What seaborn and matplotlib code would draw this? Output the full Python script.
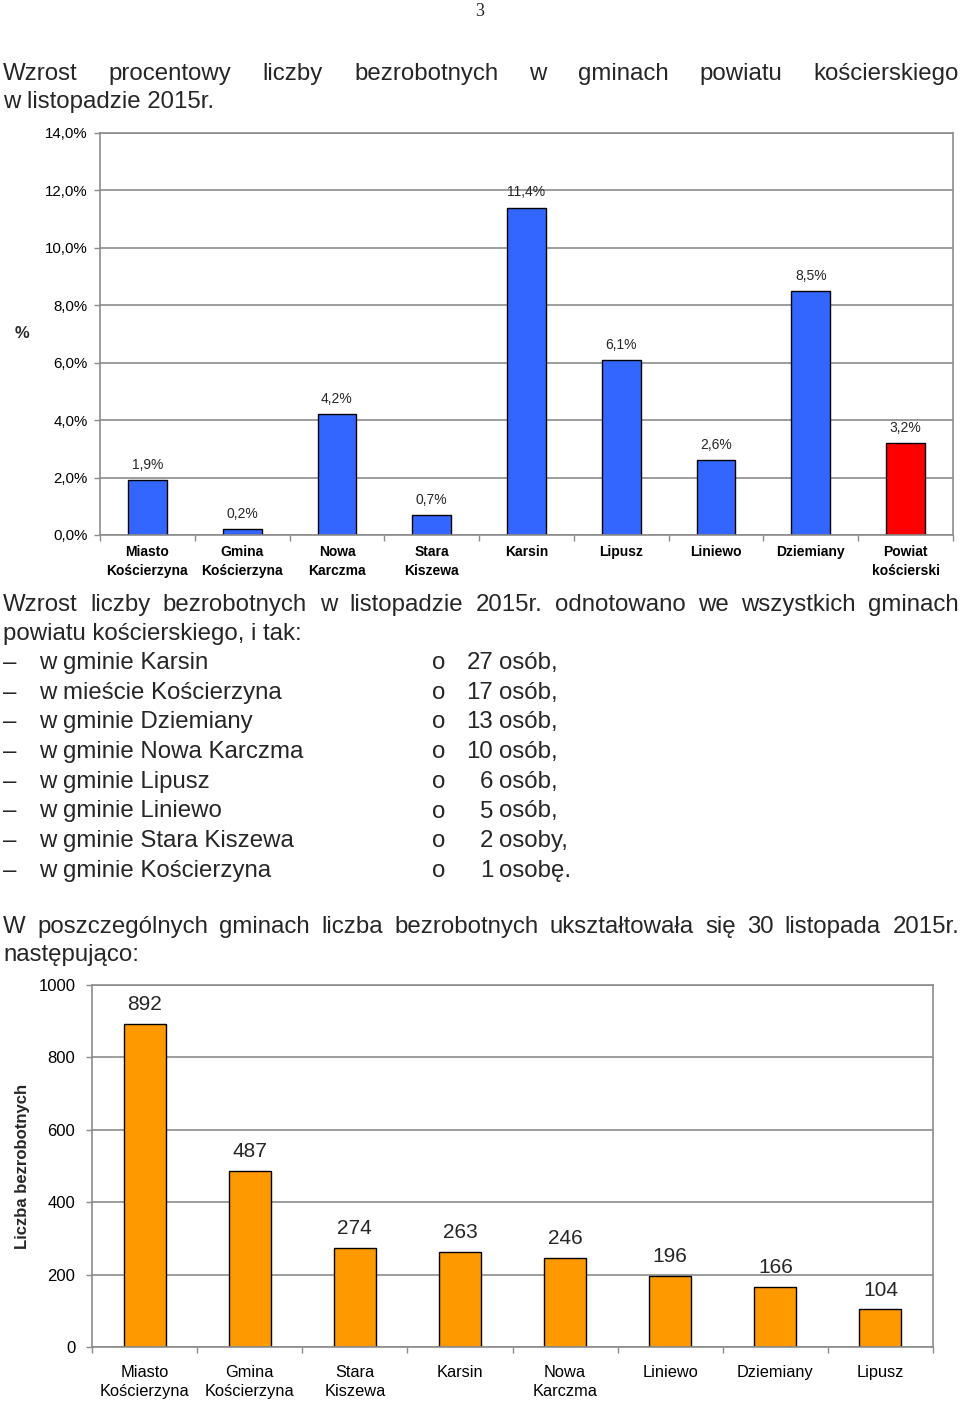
import numpy as np
import pandas as pd
import matplotlib
matplotlib.use("Agg")
import matplotlib.pyplot as plt
from matplotlib.ticker import FuncFormatter, FixedLocator
import seaborn as sns

# --- data ---
gminy_pct = ["Miasto\nKościerzyna", "Gmina\nKościerzyna", "Nowa\nKarczma", "Stara\nKiszewa",
             "Karsin", "Lipusz", "Liniewo", "Dziemiany", "Powiat\nkościerski"]
wzrost_pct = [1.9, 0.2, 4.2, 0.7, 11.4, 6.1, 2.6, 8.5, 3.2]
kolory_pct = ["#3366FF"] * 8 + ["#FF0000"]

gminy_liczba = ["Miasto\nKościerzyna", "Gmina\nKościerzyna", "Stara\nKiszewa", "Karsin",
                "Nowa\nKarczma", "Liniewo", "Dziemiany", "Lipusz"]
liczba_bezrobotnych = [892, 487, 274, 263, 246, 196, 166, 104]

lista_gmin = ["w gminie Karsin", "w mieście Kościerzyna", "w gminie Dziemiany",
              "w gminie Nowa Karczma", "w gminie Lipusz", "w gminie Liniewo",
              "w gminie Stara Kiszewa", "w gminie Kościerzyna"]
lista_liczb = ["27", "17", "13", "10", "6", "5", "2", "1"]
lista_slow = ["osób,", "osób,", "osób,", "osób,", "osób,", "osób,", "osoby,", "osobę."]

sns.set_theme(style="white")
plt.rcParams["font.family"] = ["Liberation Sans", "DejaVu Sans"]

W, H = 960, 1403
fig = plt.figure(figsize=(W / 100, H / 100), dpi=100)
fig.patch.set_facecolor("white")
BODY = 17.3
DY = 2  # small downward nudge for body text


def fx(x):
    return x / W


def fy(y):
    return 1 - (y + DY) / H


def justify(words, y, x0=3, x1=959):
    r = fig.canvas.get_renderer()
    texts = [fig.text(0, fy(y), w, fontsize=BODY, va="center", ha="left") for w in words]
    widths = [t.get_window_extent(r).width for t in texts]
    gap = (x1 - x0 - sum(widths)) / (len(words) - 1)
    x = x0
    for t, w in zip(texts, widths):
        t.set_x(fx(x))
        x += w + gap


# page number
fig.text(0.5, fy(10), "3", fontsize=13, ha="center", va="center",
         family=["Liberation Serif", "DejaVu Serif"])

# title
justify("Wzrost procentowy liczby bezrobotnych w gminach powiatu kościerskiego".split(), 72)
fig.text(fx(3), fy(100), "w listopadzie 2015r.", fontsize=BODY, va="center")


def style_axes(ax):
    ax.set_facecolor("white")
    for s in ax.spines.values():
        s.set_visible(True)
        s.set_color("#8c8c8c")
        s.set_linewidth(1.2)
    ax.yaxis.grid(True, color="#8c8c8c", linewidth=1.2)
    ax.xaxis.grid(False)
    ax.set_axisbelow(True)
    ax.tick_params(axis="y", left=True, length=4, width=1, color="#8c8c8c")
    ax.tick_params(axis="x", bottom=False)
    ax.set_xlabel("")


# --- chart 1: percentage growth ---
ax1 = fig.add_axes([100 / W, 1 - 535 / H, 853 / W, 402 / H])
df1 = pd.DataFrame({"gmina": gminy_pct, "wzrost": wzrost_pct})
sns.barplot(data=df1, x="gmina", y="wzrost", hue="gmina", palette=kolory_pct,
            dodge=False, legend=False, width=0.41, edgecolor="black", linewidth=1.0,
            saturation=1, ax=ax1)
style_axes(ax1)
ax1.set_ylim(0, 14)
ax1.set_xlim(-0.5, len(gminy_pct) - 0.5)
ax1.set_yticks(np.arange(0, 15, 2))
ax1.yaxis.set_major_formatter(FuncFormatter(lambda v, p: f"{v:.1f}%".replace(".", ",")))
ax1.tick_params(axis="y", labelsize=10.8, pad=5, labelcolor="black")
ax1.tick_params(axis="x", labelsize=10, pad=1.5, labelcolor="black")
for lab in ax1.get_xticklabels():
    lab.set_fontweight("bold")
    lab.set_linespacing(1.4)
ax1.xaxis.set_minor_locator(FixedLocator(np.arange(-0.5, len(gminy_pct), 1)))
ax1.tick_params(axis="x", which="minor", bottom=True, length=4, width=1, color="#8c8c8c")
ax1.set_ylabel("%", rotation=0, fontsize=12, fontweight="bold", ha="center", va="center")
ax1.yaxis.set_label_coords(-0.092, 0.5)
for i, v in enumerate(wzrost_pct):
    ax1.annotate(f"{v:.1f}%".replace(".", ","), (i, v), xytext=(0, 6),
                 textcoords="offset points", ha="center", va="bottom", fontsize=10)

# --- paragraph with list ---
justify("Wzrost liczby bezrobotnych w listopadzie 2015r. odnotowano we wszystkich gminach".split(), 603)
fig.text(fx(3), fy(632), "powiatu kościerskiego, i tak:", fontsize=BODY, va="center")
for k, (g, n, s) in enumerate(zip(lista_gmin, lista_liczb, lista_slow)):
    y = 661 + k * 29.7
    fig.text(fx(3), fy(y), "–", fontsize=BODY, va="center")
    fig.text(fx(39), fy(y), g, fontsize=BODY, va="center")
    fig.text(fx(432), fy(y), "o", fontsize=BODY, va="center")
    fig.text(fx(493), fy(y), n, fontsize=BODY, va="center", ha="right")
    fig.text(fx(499), fy(y), s, fontsize=BODY, va="center")

justify("W poszczególnych gminach liczba bezrobotnych ukształtowała się 30 listopada 2015r.".split(), 925)
fig.text(fx(3), fy(953), "następująco:", fontsize=BODY, va="center")

# --- chart 2: number of unemployed ---
ax2 = fig.add_axes([92 / W, 1 - 1347 / H, 841 / W, 362 / H])
df2 = pd.DataFrame({"gmina": gminy_liczba, "liczba": liczba_bezrobotnych})
sns.barplot(data=df2, x="gmina", y="liczba", color="#FF9900", width=0.40,
            edgecolor="black", linewidth=1.0, saturation=1, ax=ax2)
style_axes(ax2)
ax2.set_ylim(0, 1000)
ax2.set_xlim(-0.5, len(gminy_liczba) - 0.5)
ax2.set_yticks(np.arange(0, 1001, 200))
ax2.tick_params(axis="y", labelsize=12, pad=8, labelcolor="black")
ax2.tick_params(axis="x", labelsize=11.8, pad=7, labelcolor="black")
for lab in ax2.get_xticklabels():
    lab.set_linespacing(1.35)
ax2.xaxis.set_minor_locator(FixedLocator(np.arange(-0.5, len(gminy_liczba), 1)))
ax2.tick_params(axis="x", which="minor", bottom=True, length=4, width=1, color="#8c8c8c")
ax2.set_ylabel("Liczba bezrobotnych", fontsize=12, fontweight="bold", va="center")
ax2.yaxis.set_label_coords(-0.083, 0.5)
for i, v in enumerate(liczba_bezrobotnych):
    ax2.annotate(str(v), (i, v), xytext=(0, 7), textcoords="offset points",
                 ha="center", va="bottom", fontsize=15)

fig.savefig("out.png", dpi=100, facecolor="white")
